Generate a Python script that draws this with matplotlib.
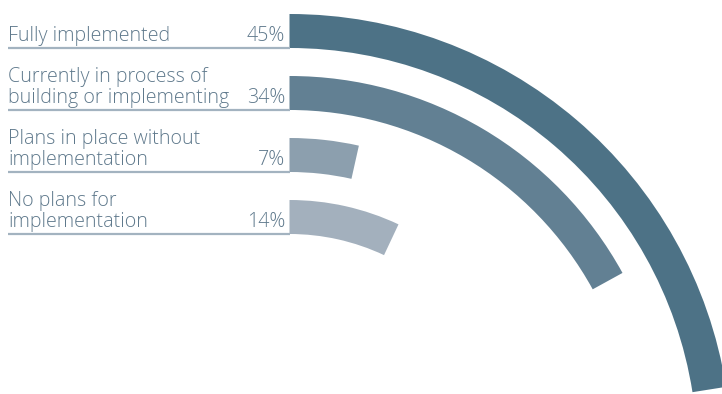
import matplotlib.pyplot as plt
from matplotlib.patches import Wedge

# data
labels = [["Fully implemented"],
          ["Currently in process of", "building or implementing"],
          ["Plans in place without", "implementation"],
          ["No plans for", "implementation"]]
values = [45, 34, 7, 14]
colors = ["#4d7286", "#628093", "#8c9fae", "#a3b0bd"]

W, H = 722, 394
fig = plt.figure(figsize=(W / 100, H / 100), dpi=100)
ax = fig.add_axes([0, 0, 1, 1])
ax.set_xlim(0, W)
ax.set_ylim(0, H)
ax.axis("off")

cx, cy = 289.5, H - 456   # centre of the arcs (below the picture)
thick = 34
step = 62
txt_col = "#5f798c"
font = dict(family="Open Sans", weight="light", fontsize=14.1, color=txt_col)

for i, (lab, v, c) in enumerate(zip(labels, values, colors)):
    top = 14 + step * i               # pixel row of outer edge
    r_out = (H - top) - cy
    ang = v / 100 * 180
    ax.add_patch(Wedge((cx, cy), r_out, 90 - ang, 90, width=thick,
                       facecolor=c, edgecolor="none"))
    base = H - (top + thick)          # bottom edge of the bar
    ax.plot([8, cx], [base, base], color="#a3b3c0", lw=1.6,
            solid_capstyle="butt")
    y = base + 7
    for line in reversed(lab):
        ax.text(8, y, line, ha="left", va="baseline", **font)
        y += 21
    ax.text(285, base + 7, f"{v}%", ha="right", va="baseline", **font)

fig.savefig("out.png", dpi=100)
